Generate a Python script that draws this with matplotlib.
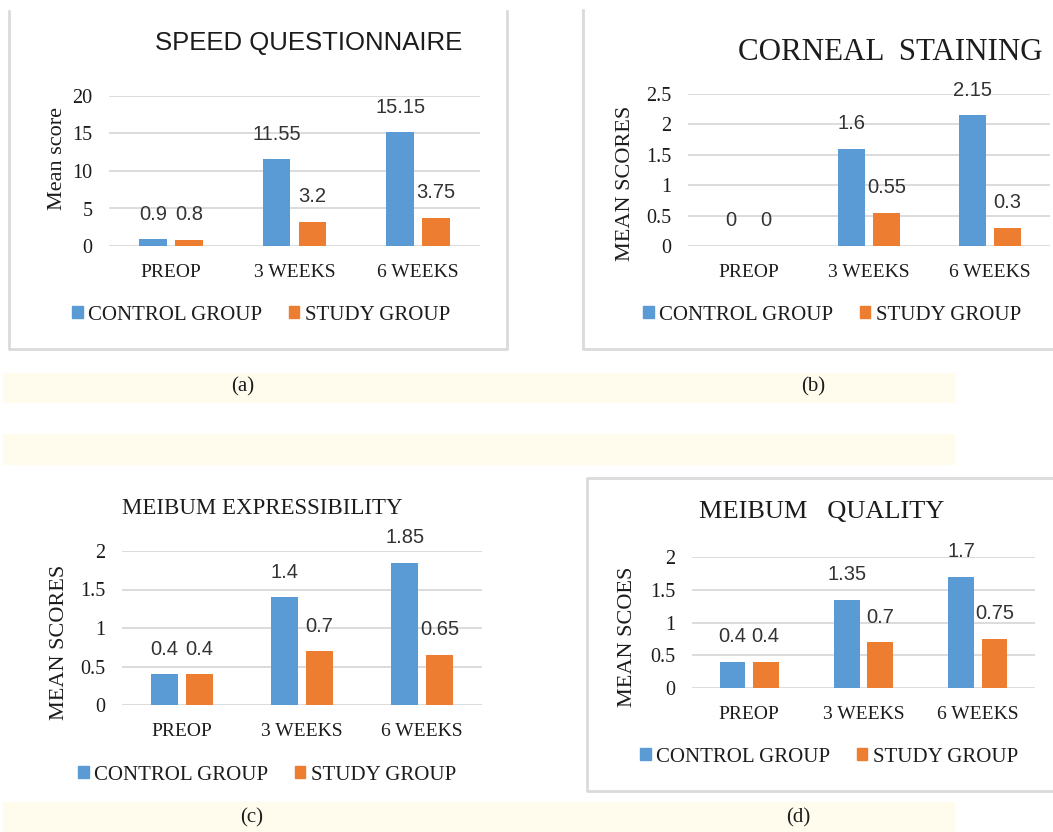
import matplotlib

matplotlib.use("Agg")
import matplotlib.pyplot as plt
from matplotlib.patches import Patch, Rectangle
from matplotlib.lines import Line2D

# Data
categories = ["PREOP", "3 WEEKS", "6 WEEKS"]
series_names = ["CONTROL GROUP", "STUDY GROUP"]

speed_control = [0.9, 11.55, 15.15]
speed_study = [0.8, 3.2, 3.75]
speed_ticks = [0, 5, 10, 15, 20]

corneal_control = [0, 1.6, 2.15]
corneal_study = [0, 0.55, 0.3]
corneal_ticks = [0, 0.5, 1, 1.5, 2, 2.5]

expr_control = [0.4, 1.4, 1.85]
expr_study = [0.4, 0.7, 0.65]
expr_ticks = [0, 0.5, 1, 1.5, 2]

quality_control = [0.4, 1.35, 1.7]
quality_study = [0.4, 0.7, 0.75]
quality_ticks = [0, 0.5, 1, 1.5, 2]

BLUE = "#5B9BD5"
ORANGE = "#ED7D31"
GRID = "#D9D9D9"
TXT = "#1C1C1C"
SERIF = "Liberation Serif"
SANS = "Liberation Sans"

W, H = 1053, 832
fig = plt.figure(figsize=(W / 100, H / 100), dpi=100)


def fx(x):
    return x / W


def fy(y):
    return 1 - y / H


# pale caption bands
for y0, y1 in [(373, 402), (434, 464), (802, 832)]:
    fig.patches.append(Rectangle((fx(3), fy(y1)), fx(954 - 3), (y1 - y0) / H,
                                 transform=fig.transFigure, color="#FFFCEE", zorder=0))

# panel borders (cropped on some sides)
def border(xs, ys):
    fig.lines.append(Line2D([fx(x) for x in xs], [fy(y) for y in ys],
                            transform=fig.transFigure, color="#DADADA", lw=2))

border([9, 9, 507, 507], [11, 349, 349, 11])
border([583, 583, 1053], [10, 349, 349])
border([1053, 587, 587, 1053], [478, 478, 791, 791])


def panel(box, control, study, ticks, title, title_xy, title_kw,
          ylabel, ylabel_xy, legend_xy):
    x0, y0, x1, y1 = box
    ax = fig.add_axes([fx(x0), fy(y1), (x1 - x0) / W, (y1 - y0) / H])
    xs = range(len(categories))
    w, off = 0.225, 0.145
    b1 = ax.bar([x - off for x in xs], control, w, color=BLUE, zorder=3)
    b2 = ax.bar([x + off for x in xs], study, w, color=ORANGE, zorder=3)
    for bars, vals in [(b1, control), (b2, study)]:
        for b, v in zip(bars, vals):
            ax.annotate(f"{v:g}", (b.get_x() + b.get_width() / 2, v),
                        xytext=(0, 18), textcoords="offset points",
                        ha="center", va="center", fontsize=14.5,
                        family=SANS, color="#333333", clip_on=False)
    ax.set_xlim(-0.5, len(categories) - 0.5)
    ax.set_ylim(ticks[0], ticks[-1])
    ax.set_yticks(ticks)
    ax.set_yticklabels([f"{t:g}" for t in ticks], family=SERIF, fontsize=14.5, color=TXT)
    ax.set_xticks(list(xs))
    ax.set_xticklabels(categories, family=SERIF, fontsize=14, color=TXT)
    ax.tick_params(length=0, pad=12)
    ax.tick_params(axis="x", pad=13)
    for s in ax.spines.values():
        s.set_visible(False)
    ax.grid(axis="y", color=GRID, lw=1.3, zorder=0)
    ax.set_axisbelow(True)
    ax.patch.set_alpha(0)

    fig.text(fx(title_xy[0]), fy(title_xy[1]), title, ha="center", va="center",
             color=TXT, **title_kw)
    fig.text(fx(ylabel_xy[0]), fy(ylabel_xy[1]), ylabel, rotation=90,
             ha="center", va="center", family=SERIF, fontsize=16, color=TXT)
    handles = [Patch(color=BLUE), Patch(color=ORANGE)]
    leg = fig.legend(handles, series_names, loc="center", ncol=2, frameon=False,
                     bbox_to_anchor=(fx(legend_xy[0]), fy(legend_xy[1])),
                     prop={"family": SERIF, "size": 15},
                     handlelength=0.5, handleheight=0.5, handletextpad=0.25,
                     columnspacing=1.3, borderaxespad=0, borderpad=0)
    for t in leg.get_texts():
        t.set_color(TXT)
    return ax


panel((109, 96, 480, 246), speed_control, speed_study, speed_ticks,
      "SPEED QUESTIONNAIRE", (309, 43), dict(family=SANS, fontsize=18.5),
      "Mean score", (58, 159), (261, 315))

panel((688, 94, 1050, 246), corneal_control, corneal_study, corneal_ticks,
      "CORNEAL  STAINING", (890, 52), dict(family=SERIF, fontsize=22.3),
      "MEAN SCORES", (625, 183), (832, 315))

panel((122, 551, 482, 705), expr_control, expr_study, expr_ticks,
      "MEIBUM EXPRESSIBILITY", (262, 508), dict(family=SERIF, fontsize=16.5),
      "MEAN SCORES", (60, 642), (267, 775))

panel((692, 557, 1035, 688), quality_control, quality_study, quality_ticks,
      "MEIBUM   QUALITY", (822, 512), dict(family=SERIF, fontsize=19),
      "MEAN SCOES", (628, 637), (829, 757))

# captions
for label, x, y in [("(a)", 243, 387), ("(b)", 813, 387),
                    ("(c)", 252, 818), ("(d)", 798, 818)]:
    fig.text(fx(x), fy(y), label, ha="center", va="center",
             family=SERIF, fontsize=15, color=TXT)

fig.savefig("out.png", dpi=100)
